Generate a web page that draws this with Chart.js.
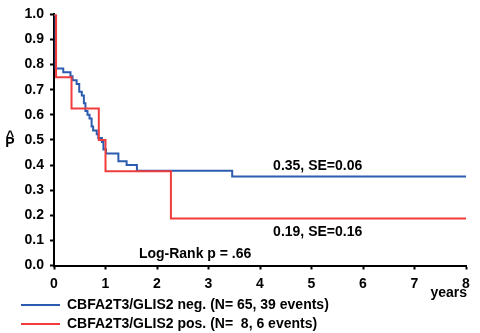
<!DOCTYPE html>
<html>
<head>
<meta charset="utf-8">
<script src="https://cdn.jsdelivr.net/npm/chart.js@4"></script>
<style>
  html, body { margin: 0; padding: 0; background: #fff; }
  #wrap { width: 480px; height: 333px; }
</style>
</head>
<body>
<div id="wrap"><canvas id="kmChart"></canvas></div>
<script>
// Kaplan-Meier steps (time in years, survival prob)
const negLabel = 'CBFA2T3/GLIS2 neg. (N= 65, 39 events)';
const negTimes = [0, 0.03, 0.18, 0.32, 0.36, 0.44, 0.49, 0.54, 0.58, 0.61, 0.65, 0.69, 0.73, 0.76, 0.83, 0.86, 0.93, 0.96, 1.01, 1.25, 1.41, 1.61, 3.46, 8];
const negSurv = [1.0, 0.785, 0.77, 0.754, 0.738, 0.723, 0.692, 0.677, 0.646, 0.615, 0.6, 0.585, 0.554, 0.538, 0.523, 0.508, 0.492, 0.462, 0.446, 0.415, 0.4, 0.377, 0.354, 0.354];

const posLabel = 'CBFA2T3/GLIS2 pos. (N=  8, 6 events)';
const posTimes = [0, 0.04, 0.34, 0.87, 1.0, 2.27, 8];
const posSurv = [1.0, 0.75, 0.625, 0.5, 0.375, 0.1875, 0.1875];

const xTicks = [0, 1, 2, 3, 4, 5, 6, 7, 8];
const xTitle = 'years';
const negNote = '0.35, SE=0.06';
const posNote = '0.19, SE=0.16';
const pValueNote = 'Log-Rank p = .66';

const BLUE = '#2c5cb0';
const RED = '#f03c3c';
const FONT = { family: 'Liberation Sans, Arial, sans-serif', size: 14, weight: 'bold' };

function toPoints(times, surv) {
  return times.map((t, i) => ({ x: t, y: surv[i] }));
}

// annotations, x title and the P-hat axis label
const notesPlugin = {
  id: 'notes',
  afterDraw(chart) {
    const ctx = chart.ctx;
    const x = chart.scales.x, y = chart.scales.y;
    ctx.save();
    ctx.fillStyle = '#000';
    ctx.font = 'bold 14px Liberation Sans, Arial, sans-serif';
    ctx.textBaseline = 'middle';
    ctx.textAlign = 'center';
    ctx.fillText(negNote, x.getPixelForValue(5.12), y.getPixelForValue(0.395));
    ctx.fillText(posNote, x.getPixelForValue(5.12), y.getPixelForValue(0.134));
    ctx.fillText(pValueNote, x.getPixelForValue(2.74), y.getPixelForValue(0.046));
    // P with hat
    ctx.fillText('P', 10, 143);
    ctx.fillText('^', 10, 137);
    // x axis title under the last tick
    ctx.textAlign = 'right';
    ctx.fillText(xTitle, x.right + 1, y.bottom + 28);
    ctx.restore();
  }
};

document.addEventListener('DOMContentLoaded', () => {
  const ctx = document.getElementById('kmChart').getContext('2d');
  new Chart(ctx, {
    type: 'line',
    data: {
      datasets: [{
        label: negLabel,
        data: toPoints(negTimes, negSurv),
        borderColor: BLUE,
        backgroundColor: BLUE,
        borderWidth: 2,
        stepped: 'before',
        pointRadius: 0,
        fill: false,
        order: 1
      }, {
        label: posLabel,
        data: toPoints(posTimes, posSurv),
        borderColor: RED,
        backgroundColor: RED,
        borderWidth: 2,
        stepped: 'before',
        pointRadius: 0,
        fill: false,
        order: 0
      }]
    },
    options: {
      responsive: true,
      maintainAspectRatio: false,
      animation: false,
      layout: { padding: { left: 16, right: 14, top: 14, bottom: -8 } },
      plugins: {
        legend: {
          display: true,
          position: 'bottom',
          align: 'start',
          labels: {
            usePointStyle: true,
            pointStyle: 'line',
            pointStyleWidth: 39,
            padding: 5,
            color: '#000',
            font: FONT,
            sort: (a, b) => a.datasetIndex - b.datasetIndex
          }
        },
        tooltip: { enabled: false }
      },
      scales: {
        x: {
          type: 'linear',
          min: 0,
          max: 8,
          afterBuildTicks: (scale) => { scale.ticks = xTicks.map(v => ({ value: v })); },
          afterFit: (scale) => { scale.height = 27.5; },
          ticks: { color: '#000', font: FONT, padding: 6, maxRotation: 0 },
          grid: { drawOnChartArea: false, tickLength: 4, color: '#000', tickWidth: 2 },
          border: { display: true, color: '#000', width: 2 }
        },
        y: {
          min: 0,
          max: 1,
          afterFit: (scale) => { scale.width = 38; },
          ticks: { stepSize: 0.1, color: '#000', font: FONT, padding: 6, callback: (v) => v.toFixed(1) },
          grid: { drawOnChartArea: false, tickLength: 4, color: '#000', tickWidth: 2 },
          border: { display: true, color: '#000', width: 2 }
        }
      }
    },
    plugins: [notesPlugin]
  });
});
</script>
</body>
</html>
